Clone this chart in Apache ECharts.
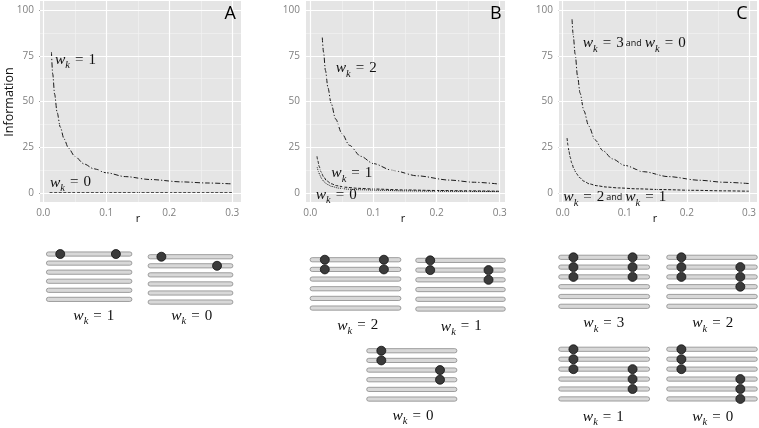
<!DOCTYPE html>
<html><head><meta charset="utf-8">
<script src="https://cdn.jsdelivr.net/npm/echarts@6/dist/echarts.min.js"></script>
<style>html,body{margin:0;padding:0;background:#fff}#c{width:759px;height:428px}</style>
</head><body><div id="c"></div>
<script>
// ---------- DATA ----------
const yTicks = [0, 25, 50, 75, 100];
const xTicks = [0, 0.1, 0.2, 0.3];
const yMinor = [12.5, 37.5, 62.5, 87.5];
const xMinor = [0.05, 0.15, 0.25];

// Panel A
const rA_w1 = [0.013, 0.015, 0.018, 0.022, 0.027, 0.033, 0.04, 0.05, 0.065, 0.08, 0.1, 0.13, 0.17, 0.22, 0.26, 0.3];
const infoA_w1 = [77, 65, 54, 44, 36, 29.5, 24.5, 20, 15.8, 13.2, 11, 8.9, 7.3, 6.0, 5.4, 4.9];
const rA_w0 = [0.01, 0.3];
const infoA_w0 = [0, 0];

// Panel B
const rB_w2 = [0.019, 0.021, 0.024, 0.028, 0.033, 0.04, 0.05, 0.062, 0.08, 0.1, 0.13, 0.17, 0.22, 0.26, 0.3];
const infoB_w2 = [85, 77, 67, 57.5, 49, 40.5, 32.5, 26, 20, 16, 12.3, 9.3, 7, 5.8, 4.8];
const rB_w1 = [0.0106, 0.012, 0.014, 0.017, 0.021, 0.026, 0.033, 0.042, 0.055, 0.075, 0.1, 0.15, 0.2, 0.25, 0.3];
const infoB_w1 = [20, 17.5, 14.5, 11.5, 8.8, 6.6, 5.0, 3.9, 3.1, 2.5, 2.1, 1.6, 1.3, 1.1, 0.9];
const rB_w0 = [0.011, 0.013, 0.015, 0.018, 0.022, 0.027, 0.034, 0.045, 0.06, 0.08, 0.11, 0.15, 0.2, 0.25, 0.3];
const infoB_w0 = [14, 11.6, 9.8, 7.8, 6.0, 4.6, 3.5, 2.6, 2.0, 1.7, 1.4, 1.1, 0.9, 0.8, 0.7];

// Panel C
const rC_w30 = [0.015, 0.017, 0.02, 0.024, 0.028, 0.034, 0.042, 0.052, 0.065, 0.08, 0.1, 0.13, 0.17, 0.22, 0.26, 0.3];
const infoC_w30 = [95, 86, 76, 63.5, 54.5, 45, 36.5, 29, 23, 18.6, 15, 11.6, 8.9, 6.9, 5.8, 5.1];
const rC_w21 = [0.007, 0.0085, 0.01, 0.012, 0.0145, 0.018, 0.022, 0.027, 0.034, 0.043, 0.055, 0.07, 0.09, 0.12, 0.16, 0.21, 0.26, 0.3];
const infoC_w21 = [30, 26, 22.8, 19.5, 16.4, 13.1, 10.6, 8.4, 6.4, 4.9, 3.9, 3.2, 2.7, 2.2, 1.8, 1.4, 1.1, 0.9];

// Haplotype diagrams: 6 rows, dot position along bar and row number
const rowNames = ['1', '2', '3', '4', '5', '6'];
const barFull = [1, 1, 1, 1, 1, 1];
const posA1 = [0.165, 0.81], rowA1 = [1, 1];
const posA2 = [0.16, 0.81], rowA2 = [1, 2];
const posB1 = [0.165, 0.165, 0.81, 0.81], rowB1 = [1, 2, 1, 2];
const posB2 = [0.165, 0.165, 0.81, 0.81], rowB2 = [1, 2, 2, 3];
const posB3 = [0.165, 0.165, 0.81, 0.81], rowB3 = [1, 2, 3, 4];
const posC = [0.165, 0.165, 0.165, 0.81, 0.81, 0.81];
const rowC1 = [1, 2, 3, 1, 2, 3];
const rowC2 = [1, 2, 3, 2, 3, 4];
const rowC3 = [1, 2, 3, 3, 4, 5];
const rowC4 = [1, 2, 3, 4, 5, 6];
const diagWk = ['1', '0', '2', '1', '0', '3', '2', '1', '0'];

// ---------- LAYOUT ----------
const plotGrids = [
  {left: 40, top: 1, width: 201, height: 201, xmin: -0.0052, xmax: 0.3138},
  {left: 306, top: 1, width: 199, height: 201, xmin: -0.0068, xmax: 0.3084},
  {left: 559, top: 1, width: 198, height: 201, xmin: -0.006, xmax: 0.3129}
];
const diagGrids = [
  {left: 46, top: 249.5, width: 86.3, height: 54.4, lx: 93.8, ly: 316},
  {left: 147.7, top: 252.2, width: 85.6, height: 54.4, lx: 191.7, ly: 316},
  {left: 309.7, top: 254.9, width: 91.6, height: 58, lx: 357.7, ly: 325.5},
  {left: 415.3, top: 255.5, width: 90.4, height: 58.4, lx: 461.3, ly: 326.5},
  {left: 366.3, top: 345.9, width: 91, height: 58, lx: 413, ly: 416},
  {left: 558.3, top: 252.4, width: 91.7, height: 58.8, lx: 603.8, ly: 323.3},
  {left: 666.3, top: 252.4, width: 91.4, height: 58.8, lx: 712.7, ly: 323.3},
  {left: 558.3, top: 344.3, width: 91.7, height: 59.6, lx: 603.3, ly: 416.7},
  {left: 666.3, top: 344.3, width: 91.4, height: 59.6, lx: 712.7, ly: 416.7}
];
const diagDots = [
  [posA1, rowA1], [posA2, rowA2], [posB1, rowB1], [posB2, rowB2], [posB3, rowB3],
  [posC, rowC1], [posC, rowC2], [posC, rowC3], [posC, rowC4]
];

const zip = (a, b) => a.map((v, i) => [v, b[i]]);
const LINE = '#1a1a1a';
const DASHDOT = [5, 2, 1.2, 2];
const DASHED = [3, 1.6];
const DOTTED = [1, 1];

const grid = [], xAxis = [], yAxis = [], series = [], graphic = [];

plotGrids.forEach((g, i) => {
  grid.push({left: g.left, top: g.top, width: g.width, height: g.height, show: true,
    backgroundColor: '#e5e5e5', borderWidth: 0, containLabel: false});
  xAxis.push({type: 'value', gridIndex: i, min: g.xmin, max: g.xmax,
    axisLine: {show: false},
    axisTick: {show: true, length: 4, customValues: xTicks, lineStyle: {color: '#7f7f7f', width: 1}},
    axisLabel: {show: true, customValues: xTicks, color: '#7f7f7f', fontSize: 10, margin: 6,
      fontFamily: 'Open Sans', formatter: v => Number(v).toFixed(1)},
    splitLine: {show: false}});
  yAxis.push({type: 'value', gridIndex: i, min: -5, max: 105,
    axisLine: {show: false},
    axisTick: {show: true, length: 4, customValues: yTicks, lineStyle: {color: '#7f7f7f', width: 1}},
    axisLabel: {show: true, customValues: yTicks, color: '#7f7f7f', fontSize: 10, margin: 6,
      fontFamily: 'Open Sans', formatter: v => String(Math.round(v))},
    splitLine: {show: false}});
  const ml = []
    .concat(xMinor.map(v => ({xAxis: v, lineStyle: {color: '#f2f2f2', width: 0.7}})))
    .concat(yMinor.map(v => ({yAxis: v, lineStyle: {color: '#f2f2f2', width: 0.7}})))
    .concat(xTicks.map(v => ({xAxis: v, lineStyle: {color: '#ffffff', width: 1.2}})))
    .concat(yTicks.map(v => ({yAxis: v, lineStyle: {color: '#ffffff', width: 1.2}})));
  series.push({type: 'line', xAxisIndex: i, yAxisIndex: i, data: [[0.15, 50]], symbol: 'none',
    lineStyle: {opacity: 0}, z: 1, silent: true, animation: false,
    markLine: {silent: true, symbol: ['none', 'none'], label: {show: false}, animation: false,
      lineStyle: {type: 'solid'}, data: ml}});
});

function curve(idx, r, v, type, w) {
  series.push({type: 'line', xAxisIndex: idx, yAxisIndex: idx, data: zip(r, v),
    symbol: 'none', showSymbol: false, smooth: 0.3, smoothMonotone: 'x', z: 3,
    animation: false, silent: true, clip: true,
    lineStyle: {color: LINE, width: w || 1, type: type}});
}
curve(0, rA_w0, infoA_w0, DASHED, 1.1);
curve(0, rA_w1, infoA_w1, DASHDOT);
curve(1, rB_w0, infoB_w0, DOTTED);
curve(1, rB_w1, infoB_w1, DASHED);
curve(1, rB_w2, infoB_w2, DASHDOT);
curve(2, rC_w21, infoC_w21, DASHED);
curve(2, rC_w30, infoC_w30, DASHDOT);

diagGrids.forEach((g, j) => {
  const gi = 3 + j;
  grid.push({left: g.left, top: g.top, width: g.width, height: g.height, show: false, containLabel: false});
  xAxis.push({type: 'value', gridIndex: gi, min: 0, max: 1, show: false});
  yAxis.push({type: 'category', gridIndex: gi, data: rowNames, inverse: true, show: false, boundaryGap: true});
  series.push({type: 'bar', xAxisIndex: gi, yAxisIndex: gi, data: barFull, barWidth: 5,
    silent: true, animation: false, z: 2,
    itemStyle: {color: '#d8d8d8', borderColor: '#8a8a8a', borderWidth: 0.8, borderRadius: 2.5}});
  const [pos, rows] = diagDots[j];
  series.push({type: 'scatter', xAxisIndex: gi, yAxisIndex: gi,
    data: pos.map((p, k) => [p, rows[k] - 1]), symbol: 'circle', symbolSize: 9,
    silent: true, animation: false, z: 4,
    itemStyle: {color: '#3b3b3b', borderColor: '#111', borderWidth: 0.8, opacity: 1}});
});

// ---------- TEXT ----------
const mathRich = {
  w: {fontFamily: 'Liberation Serif', fontStyle: 'italic', fontSize: 15.5, lineHeight: 22, verticalAlign: 'middle', fill: '#111'},
  k: {fontFamily: 'Liberation Serif', fontStyle: 'italic', fontSize: 10.5, lineHeight: 10, verticalAlign: 'bottom', fill: '#111'},
  e: {fontFamily: 'Liberation Serif', fontSize: 15, lineHeight: 22, verticalAlign: 'middle', padding: [0, 5], fill: '#111'},
  n: {fontFamily: 'Liberation Serif', fontSize: 15, lineHeight: 22, verticalAlign: 'middle', fill: '#111'},
  a: {fontFamily: 'Open Sans', fontSize: 9, lineHeight: 22, verticalAlign: 'middle', padding: [0, 3, 0, 2], fill: '#111'}
};
const wk = n => '{w|w}{k|k}{e|=}{n|' + n + '}';
function mtext(str, x, y, align) {
  graphic.push({type: 'text', x: x, y: y, z: 10, silent: true,
    style: {text: str, rich: mathRich, align: align || 'center', verticalAlign: 'middle', fill: '#111'}});
}
// in-plot labels
mtext(wk('1'), 55, 60, 'left');
mtext(wk('0'), 50, 182.5, 'left');
mtext(wk('2'), 335.7, 68.3, 'left');
mtext(wk('1'), 331.3, 173.3, 'left');
mtext(wk('0'), 315.7, 195, 'left');
mtext(wk('3') + '{a|and}' + wk('0'), 582.7, 43.3, 'left');
mtext(wk('2') + '{a|and}' + wk('1'), 563.3, 197.3, 'left');
// diagram labels
diagGrids.forEach((g, j) => mtext(wk(diagWk[j]), g.lx, g.ly, 'center'));

// panel letters
[['A', 230.3], ['B', 495.8], ['C', 742]].forEach(([t, x]) => {
  graphic.push({type: 'text', x: x, y: 14, z: 10, silent: true,
    style: {text: t, fontFamily: 'Open Sans', fontSize: 18, fill: '#000', align: 'center', verticalAlign: 'middle'}});
});
// axis titles
graphic.push({type: 'text', x: 9, y: 102, rotation: Math.PI / 2, z: 10, silent: true,
  style: {text: 'Information', fontFamily: 'Open Sans', fontSize: 12.5, fill: '#111', align: 'center', verticalAlign: 'middle'}});
[138, 403, 655].forEach(x => {
  graphic.push({type: 'text', x: x, y: 219, z: 10, silent: true,
    style: {text: 'r', fontFamily: 'Open Sans', fontSize: 11, fill: '#111', align: 'center', verticalAlign: 'middle'}});
});

const chart = echarts.init(document.getElementById('c'), null, {renderer: 'canvas'});
chart.setOption({animation: false, backgroundColor: '#ffffff', grid, xAxis, yAxis, series, graphic});
</script></body></html>
